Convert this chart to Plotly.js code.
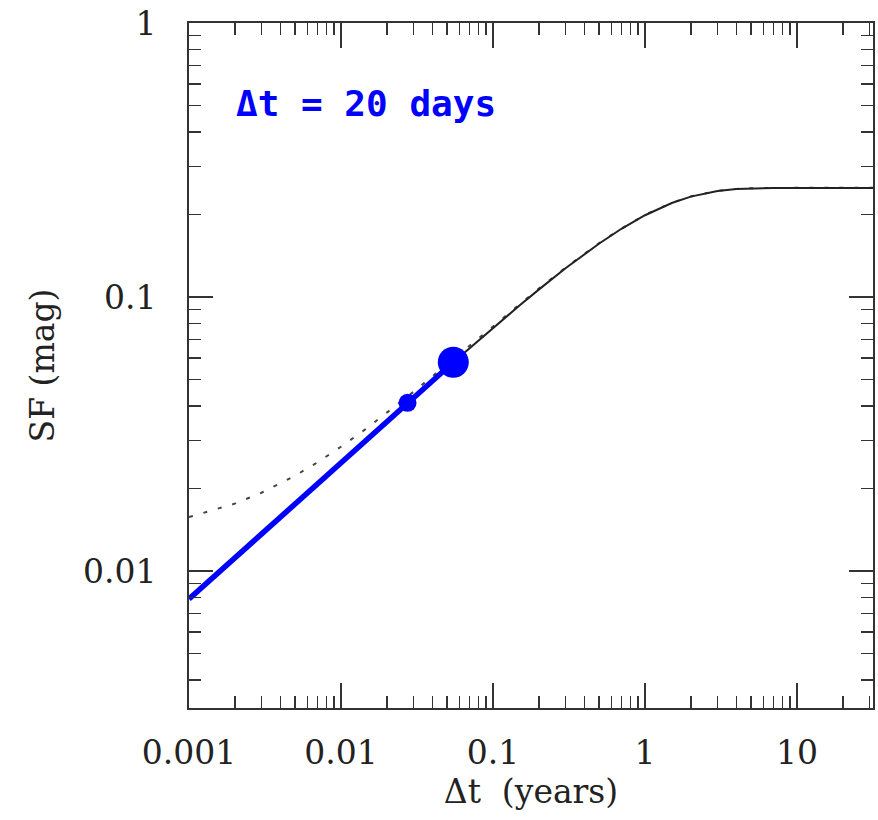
<!DOCTYPE html>
<html>
<head>
<meta charset="utf-8">
<script src="https://cdn.plot.ly/plotly-3.0.1.min.js"></script>
<style>html,body{margin:0;padding:0;background:#fff;}</style>
</head>
<body>
<div id="chart" style="width:878px;height:820px;"></div>
<script>
// Structure function values (Δt in years, SF in mag)
const modelDt = [0.0548, 0.07, 0.1, 0.15, 0.2, 0.3, 0.5, 0.7, 1, 1.5, 2, 3, 4, 5, 7, 10, 15, 20, 32];
const modelSF = [0.0578, 0.0650, 0.0771, 0.0933, 0.1064, 0.1273, 0.1568, 0.1774, 0.1988, 0.2203, 0.2325, 0.2437, 0.2477, 0.2492, 0.2499, 0.2500, 0.2500, 0.2500, 0.2500];

const noisyDt = [0.001, 0.002, 0.003, 0.005, 0.007, 0.01, 0.015, 0.02, 0.03, 0.05, 0.07, 0.1, 0.15, 0.2, 0.3, 0.5, 0.7, 1, 1.5, 2, 3, 4, 5, 7, 10, 20, 32];
const noisySF = [0.01573, 0.01761, 0.01930, 0.02229, 0.02492, 0.02841, 0.03339, 0.03772, 0.04508, 0.05686, 0.06641, 0.07829, 0.09429, 0.10727, 0.12803, 0.15739, 0.17792, 0.19926, 0.22072, 0.23290, 0.24408, 0.24807, 0.24957, 0.25027, 0.25037, 0.25037, 0.25037];

const powerDt = [0.001, 0.0548];
const powerSF = [0.0079, 0.0578];

const sampleDt = [0.0274, 0.0548];
const sampleSF = [0.0411, 0.0578];
const sampleSize = [18, 31];

const xTickVals = [0.001, 0.01, 0.1, 1, 10];
const xTickText = ['0.001', '0.01', '0.1', '1', '10'];
const yTickVals = [0.01, 0.1, 1];
const yTickText = ['0.01', '0.1', '1'];

const annotationText = 'Δt = 20 days';

const axisColor = '#333';
const serif = 'DejaVu Serif, Liberation Serif, serif';

const traces = [
  {x: noisyDt, y: noisySF, mode: 'lines', line: {color: '#444', width: 2, dash: '4px,11px'}, hoverinfo: 'skip'},
  {x: modelDt, y: modelSF, mode: 'lines', line: {color: '#222', width: 2}, hoverinfo: 'skip'},
  {x: powerDt, y: powerSF, mode: 'lines', line: {color: '#0000ff', width: 5.5}, hoverinfo: 'skip'},
  {x: sampleDt, y: sampleSF, mode: 'markers', marker: {color: '#0000ff', size: sampleSize, opacity: 1, line: {width: 0}}, hoverinfo: 'skip'}
];

const axisCommon = {
  type: 'log',
  tickmode: 'array',
  ticks: 'inside',
  tickwidth: 2,
  tickcolor: axisColor,
  showline: true,
  linewidth: 2,
  linecolor: axisColor,
  mirror: 'ticks',
  showgrid: false,
  zeroline: false,
  tickfont: {family: serif, size: 33, color: '#222'},
  minor: {ticks: 'inside', ticklen: 12, tickwidth: 1.5, tickcolor: axisColor, showgrid: false, dtick: 'D1'}
};

const layout = {
  width: 878,
  height: 820,
  margin: {l: 189, r: 5, t: 23, b: 112},
  paper_bgcolor: '#fff',
  plot_bgcolor: '#fff',
  showlegend: false,
  xaxis: Object.assign({}, axisCommon, {
    range: [-3, 1.5],
    tickvals: xTickVals,
    ticktext: xTickText,
    ticklen: 25,
    ticklabelstandoff: 14,
    title: {text: 'Δt\u00a0\u00a0(years)', font: {family: serif, size: 33, color: '#222'}, standoff: 8}
  }),
  yaxis: Object.assign({}, axisCommon, {
    range: [-2.5, 0],
    tickvals: yTickVals,
    ticktext: yTickText,
    ticklen: 24,
    ticklabelstandoff: 24,
    title: {text: 'SF (mag)', font: {family: serif, size: 33, color: '#222'}, standoff: 18}
  }),
  annotations: [{
    text: annotationText,
    xref: 'paper', yref: 'paper',
    x: 0.066, y: 0.882,
    xanchor: 'left', yanchor: 'middle',
    showarrow: false,
    font: {family: 'DejaVu Sans Mono, Liberation Mono, monospace', size: 36, color: '#0000ff', weight: 'bold'}
  }]
};

Plotly.newPlot('chart', traces, layout, {displayModeBar: false, staticPlot: true});
</script>
</body>
</html>
